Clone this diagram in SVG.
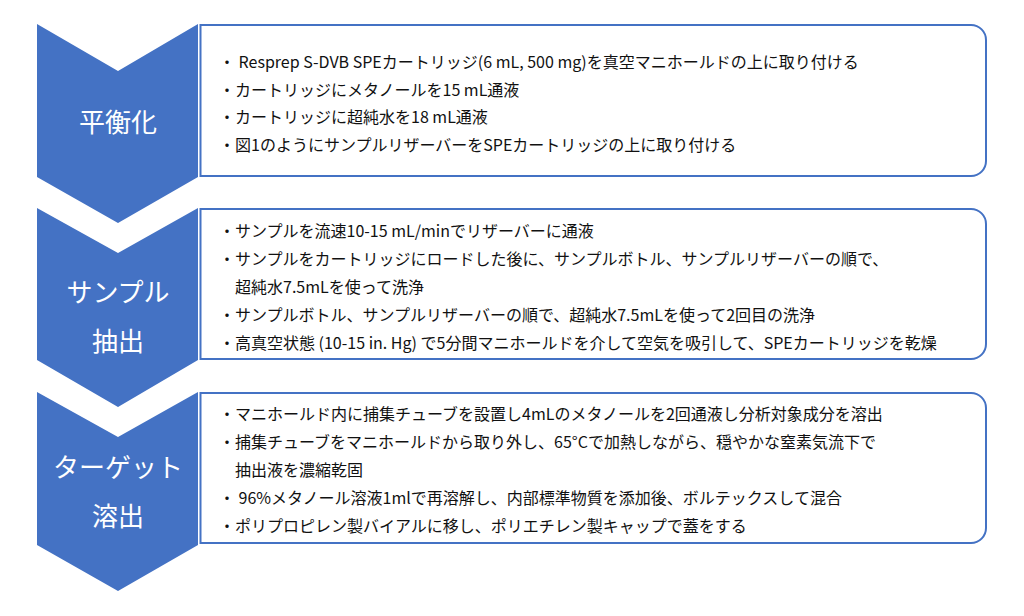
<svg xmlns="http://www.w3.org/2000/svg" width="1024" height="616" viewBox="0 0 1024 616">
<style>
.chev{fill:#4472C4;}
.box{fill:#FFFFFF;stroke:#4472C4;stroke-width:2;}
.ttl{font-family:"Noto Sans CJK JP","Noto Sans",sans-serif;font-size:26px;fill:#FFFFFF;text-anchor:middle;}
.txt{font-family:"Noto Sans CJK JP","Noto Sans",sans-serif;font-size:16px;fill:#111111;}
</style>
<rect width="1024" height="616" fill="#FFFFFF"/>
<g id="step1">
<polygon class="chev" points="37,24 118,71 198,24 198,177 118,223 37,177"/>
<text class="ttl" x="118" y="132">平衡化</text>
<path class="box" d="M200.5,25 H971 A15,15 0 0 1 986,40 V161 A15,15 0 0 1 971,176 H200.5 Z"/>
<text class="txt" x="219" y="68">・ Resprep S-DVB SPEカートリッジ(6 mL, 500 mg)を真空マニホールドの上に取り付ける</text>
<text class="txt" x="219" y="96">・カートリッジにメタノールを15 mL通液</text>
<text class="txt" x="219" y="123">・カートリッジに超純水を18 mL通液</text>
<text class="txt" x="219" y="151">・図1のようにサンプルリザーバーをSPEカートリッジの上に取り付ける</text>
</g>
<g id="step2">
<polygon class="chev" points="37,208 118,253 198,208 198,360 118,407 37,360"/>
<text class="ttl" x="118" y="302">サンプル</text>
<text class="ttl" x="118" y="351">抽出</text>
<path class="box" d="M200.5,209 H971 A15,15 0 0 1 986,224 V344 A15,15 0 0 1 971,359 H200.5 Z"/>
<text class="txt" x="219" y="237">・サンプルを流速10-15 mL/minでリザーバーに通液</text>
<text class="txt" x="219" y="265">・サンプルをカートリッジにロードした後に、サンプルボトル、サンプルリザーバーの順で、</text>
<text class="txt" x="235" y="293">超純水7.5mLを使って洗浄</text>
<text class="txt" x="219" y="321">・サンプルボトル、サンプルリザーバーの順で、超純水7.5mLを使って2回目の洗浄</text>
<text class="txt" x="219" y="349">・高真空状態 (10-15 in. Hg) で5分間マニホールドを介して空気を吸引して、SPEカートリッジを乾燥</text>
</g>
<g id="step3">
<polygon class="chev" points="37,392 118,437 198,392 198,545 118,591 37,545"/>
<text class="ttl" x="118" y="477">ターゲット</text>
<text class="ttl" x="118" y="526">溶出</text>
<path class="box" d="M200.5,393 H971 A15,15 0 0 1 986,408 V528 A15,15 0 0 1 971,543 H200.5 Z"/>
<text class="txt" x="219" y="420">・マニホールド内に捕集チューブを設置し4mLのメタノールを2回通液し分析対象成分を溶出</text>
<text class="txt" x="219" y="448">・捕集チューブをマニホールドから取り外し、65°Cで加熱しながら、穏やかな窒素気流下で</text>
<text class="txt" x="235" y="476">抽出液を濃縮乾固</text>
<text class="txt" x="219" y="504">・ 96%メタノール溶液1mlで再溶解し、内部標準物質を添加後、ボルテックスして混合</text>
<text class="txt" x="219" y="532">・ポリプロピレン製バイアルに移し、ポリエチレン製キャップで蓋をする</text>
</g>
<g id="connectors"></g>
</svg>
